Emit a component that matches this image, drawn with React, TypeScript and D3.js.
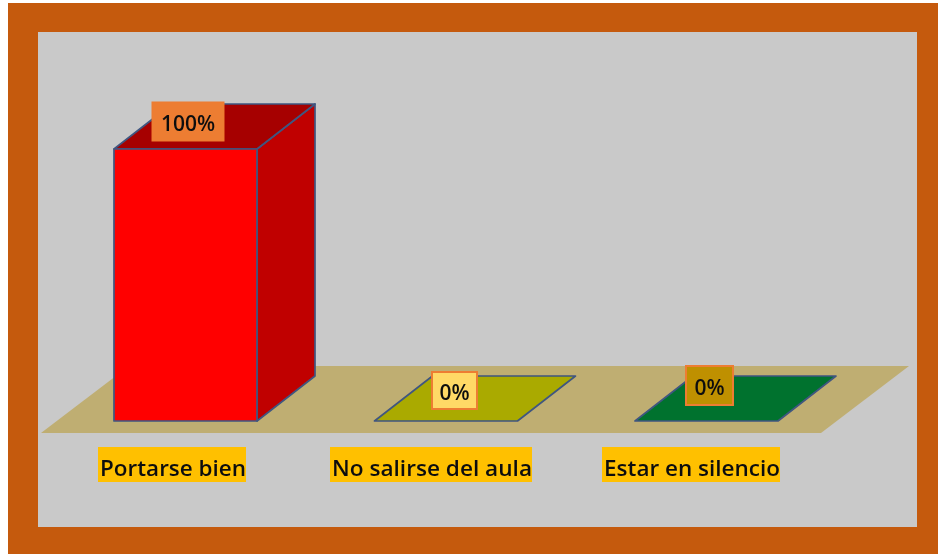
import React from "react";
import * as d3 from "d3";

const categories = ["Portarse bien", "No salirse del aula", "Estar en silencio"];
const values = [100, 0, 0];
const valueLabels = ["100%", "0%", "0%"];
const frontColors = ["#FF0000", "#AAAA00", "#00722F"];
const topColors = ["#A60000", "#AAAA00", "#00722F"];
const sideColors = ["#C00000", "#AAAA00", "#00722F"];
const labelFills = ["#ED7D31", "#FFD966", "#BF9000"];
const labelStrokes = ["#ED7D31", "#ED7D31", "#ED7D31"];
const labelWidths = [72, 45, 47];
const labelHeights = [39, 37, 39];
const labelDx = [2.5, 8.5, 3];
const labelDy = [-47, -49, -55];
const catBox = [[98, 148], [330, 202], [602, 178]];

const WIDTH = 938;
const HEIGHT = 554;
const DX = 58;
const DY = -45;
const FONT = "'Open Sans', 'Noto Sans', sans-serif";

export default function App() {
  const x = d3.scaleBand<string>().domain(categories).range([55.25, 836.75]).paddingInner(0.451).paddingOuter(0.2255);
  const y = d3.scaleLinear().domain([0, 100]).range([421, 149]);
  const line = d3.line();
  const w = x.bandwidth();
  const floorBase = y(0) + 12;
  const floorBack = floorBase - 67;
  const floor = line([[41, floorBase], [821, floorBase], [909, floorBack], [129, floorBack]]) + "Z";

  return (
    <svg width={WIDTH} height={HEIGHT} style={{ position: "absolute", left: 0, top: 0 }} xmlns="http://www.w3.org/2000/svg">
      <defs>
        <filter id="soft" x="-2%" y="-2%" width="104%" height="104%">
          <feGaussianBlur stdDeviation="0.5" />
        </filter>
      </defs>
      <rect width={WIDTH} height={HEIGHT} fill="#fff" />
      <g filter="url(#soft)">
        <rect x={8} y={3} width={930} height={551} fill="#C55A11" />
        <rect x={38} y={32} width={879} height={495} fill="#C9C9C9" />
        <path d={floor} fill="#BFAE72" />
        {categories.map((c, i) => {
          const x0 = x(c)!;
          const x1 = x0 + w;
          const b = y(0);
          const t = y(values[i]);
          const stroke = { stroke: "#3F5680", strokeWidth: 1.7, strokeLinejoin: "round" as const };
          return (
            <g key={c}>
              {t !== b && (
                <>
                  <path d={line([[x1, t], [x1 + DX, t + DY], [x1 + DX, b + DY], [x1, b]]) + "Z"} fill={sideColors[i]} {...stroke} />
                  <path d={line([[x0, t], [x0 + DX, t + DY], [x1 + DX, t + DY], [x1, t]]) + "Z"} fill={topColors[i]} {...stroke} />
                  <rect x={x0} y={t} width={w} height={b - t} fill={frontColors[i]} {...stroke} />
                </>
              )}
              {t === b && (
                <path d={line([[x0, b], [x0 + DX, b + DY], [x1 + DX, b + DY], [x1, b]]) + "Z"} fill={topColors[i]} {...stroke} />
              )}
            </g>
          );
        })}
        {categories.map((c, i) => {
          const cx = x(c)! + w / 2;
          const boxX = cx + labelDx[i] - labelWidths[i] / 2;
          const boxY = y(values[i]) + labelDy[i];
          return (
            <g key={c + "-label"}>
              <rect x={boxX} y={boxY} width={labelWidths[i]} height={labelHeights[i]} fill={labelFills[i]} stroke={labelStrokes[i]} strokeWidth={i === 0 ? 1 : 2} />
              <text x={boxX + labelWidths[i] / 2} y={boxY + labelHeights[i] / 2 + 9.5} textAnchor="middle" fontFamily={FONT} fontSize={21} fontWeight={600} fill="#111">
                {valueLabels[i]}
              </text>
            </g>
          );
        })}
        {categories.map((c, i) => (
          <g key={c + "-cat"}>
            <rect x={catBox[i][0]} y={447} width={catBox[i][1]} height={35} fill="#FFC000" />
            <text x={catBox[i][0] + 2} y={476} fontFamily={FONT} fontSize={21} fontWeight={600} fill="#111" textLength={catBox[i][1] - 2} lengthAdjust="spacingAndGlyphs">
              {c}
            </text>
          </g>
        ))}
      </g>
    </svg>
  );
}
